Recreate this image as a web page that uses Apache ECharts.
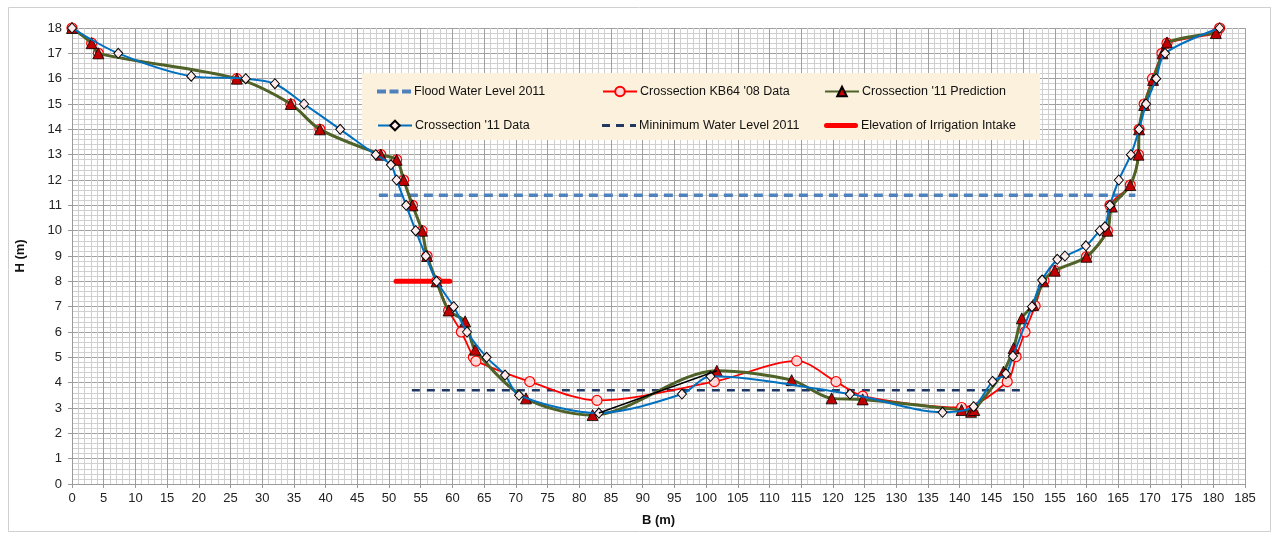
<!DOCTYPE html>
<html><head><meta charset="utf-8">
<script src="https://cdn.jsdelivr.net/npm/echarts@6/dist/echarts.min.js"></script>
<style>html,body{margin:0;padding:0;background:#fff}#c{width:1279px;height:535px}</style>
</head><body><div id="c"></div>
<script>
// ---- data (B in m, H in m) ----
const seriesNames = ["Flood Water Level 2011","Crossection KB64 '08 Data","Crossection '11 Prediction","Crossection '11 Data","Mininimum Water Level 2011","Elevation of Irrigation Intake"];
const floodLevel2011 = [[48.4,11.4],[167.7,11.4]];
const kb64Data08 = [[0,18],[3.1,17.4],[4.15,17],[26,16],[34.5,15],[39.1,14],[48.7,13],[51.2,12.8],[52.3,12],[53.7,11],[55.2,10],[56,9],[57.5,8],[59.4,6.85],[61.4,6.0],[63.3,5.0],[63.7,4.85],[72.2,4.04],[82.8,3.3],[101.3,4.04],[114.3,4.86],[120.5,4.04],[124.7,3.47],[140.3,3.02],[147.5,4.04],[148.9,5.03],[150.3,6.0],[151.9,7.03],[153.3,8.03],[155,8.42],[160,8.97],[163.3,10],[163.7,11],[166.9,11.8],[168.2,13],[168.3,14],[169.1,15],[170.4,16],[171.9,17],[172.7,17.4],[180.5,17.8],[181,18]];
const prediction11 = [[0,18],[3.1,17.4],[4.15,17],[26,16],[34.5,15],[39.1,14],[48.7,13],[51.2,12.8],[52.3,12],[53.7,11],[55.2,10],[56,9],[57.5,8],[59.4,6.85],[62,6.42],[63.6,5.3],[71.6,3.38],[82.1,2.72],[101.7,4.47],[113.5,4.1],[119.8,3.38],[124.7,3.34],[140.3,2.92],[141.8,2.85],[142.3,2.92],[146.9,4.43],[148.5,5.36],[149.8,6.54],[151.6,7.07],[153.2,8],[155,8.42],[160,8.97],[163.3,10],[164,10.95],[166.9,11.8],[168.2,13],[168.3,14],[169.1,14.96],[170.5,15.95],[172,17],[172.7,17.43],[180.4,17.8]];
const data11 = [[0,18],[7.3,17],[18.8,16.1],[27.4,16],[32,15.8],[36.6,15],[42.3,14],[47.9,13],[50.3,12.6],[51.2,12],[52.7,11],[54.2,10],[55.8,9],[57.5,8],[60.2,7],[62.3,6],[65.4,5],[68.3,4.3],[70.5,3.5],[83.1,2.8],[96.2,3.55],[100.7,4.25],[122.7,3.55],[137.3,2.83],[142.2,3.05],[145.2,4.05],[147.3,4.35],[148.4,5.05],[151.4,7.0],[153,8.05],[155.4,8.87],[156.6,9.0],[159.9,9.4],[162.1,10.0],[162.9,10.15],[163.7,11],[165.1,12],[167,13],[168.3,14],[169.4,15],[171,16],[172.4,17],[181,18]];
const blackSegment = [[83.1,2.8],[101.7,4.47]];
const minLevel2011 = [[53.6,3.7],[150.3,3.7]];
const irrigationIntake = [[51.1,8],[59.6,8]];
const xMin = 0, xMax = 185, xStep = 5;
const yMin = 0, yMax = 18, yStep = 1;

const chart = echarts.init(document.getElementById('c'), null, {renderer:'canvas'});
const FONT = "'Liberation Sans', Arial, sans-serif";
const legendPos = [
  {left:372, top:80},{left:597, top:80},{left:819, top:80},
  {left:372, top:114},{left:597, top:114},{left:819, top:114}
];
const legendIcons = [
  {icon:'path://M0,0h9v4h-9z M12.5,0h9v4h-9z M25,0h9v4h-9z', h:4},
  null, null, null,
  {icon:'path://M0,0h8v3h-8z M14,0h8v3h-8z M28,0h6v3h-6z', h:3},
  {icon:'path://M2.5,0h29a2.5,2.5 0 0 1 0,5h-29a2.5,2.5 0 0 1 0,-5z', h:5}
];
const legends = seriesNames.map((n,i)=>{
  const ic = legendIcons[i];
  return {
    data:[ic ? {name:n, icon:ic.icon} : n],
    left:legendPos[i].left, top:legendPos[i].top,
    itemWidth:34, itemHeight: ic ? ic.h : 12, itemGap:0,
    textStyle:{fontFamily:FONT, fontSize:12.5, color:'#111', padding:[0,0,0,-2]}, z:5, selectedMode:false
  };
});

chart.setOption({
  animation:false,
  backgroundColor:'#fff',
  graphic:[
    {type:'rect', shape:{x:8.5,y:7.5,width:1262,height:524}, style:{fill:'none', stroke:'#d0d0d0', lineWidth:1}, z:0},
    {type:'rect', shape:{x:362,y:73,width:678,height:67}, style:{fill:'#fcf1dd', stroke:'none'}, z:3}
  ],
  legend: legends,
  grid:{left:72, right:34, top:28, bottom:51, containLabel:false},
  xAxis:{type:'value', min:xMin, max:xMax, interval:xStep,
    name:'B (m)', nameLocation:'middle', nameGap:30,
    nameTextStyle:{fontFamily:FONT, fontWeight:'bold', fontSize:13, color:'#111'},
    axisLine:{show:true, lineStyle:{color:'#9a9a9a'}},
    axisTick:{show:true, length:4, lineStyle:{color:'#9a9a9a'}},
    axisLabel:{fontFamily:"'Liberation Sans Narrow', "+FONT, fontSize:13, color:'#222', margin:8},
    splitLine:{show:true, lineStyle:{color:'#a0a0a0', width:1}},
    minorTick:{show:false, splitNumber:5},
    minorSplitLine:{show:true, lineStyle:{color:'#cfcfcf', width:1}}
  },
  yAxis:{type:'value', min:yMin, max:yMax, interval:yStep,
    name:'H (m)', nameLocation:'middle', nameGap:45, nameRotate:90,
    nameTextStyle:{fontFamily:FONT, fontWeight:'bold', fontSize:13, color:'#111'},
    axisLine:{show:true, lineStyle:{color:'#9a9a9a'}},
    axisTick:{show:true, length:4, lineStyle:{color:'#9a9a9a'}},
    axisLabel:{fontFamily:FONT, fontSize:13, color:'#222', margin:10},
    splitLine:{show:true, lineStyle:{color:'#a0a0a0', width:1}},
    minorTick:{show:false, splitNumber:5},
    minorSplitLine:{show:true, lineStyle:{color:'#cfcfcf', width:1}}
  },
  series:[
    {name:seriesNames[0], type:'line', data:floodLevel2011, symbol:'none', z:2,
      lineStyle:{color:'#4f81bd', width:3.5, type:[9,6]}, itemStyle:{color:'#4f81bd'}},
    {name:seriesNames[4], type:'line', data:minLevel2011, symbol:'none', z:2,
      lineStyle:{color:'#1f3864', width:2.5, type:[8,7]}, itemStyle:{color:'#1f3864'}},
    {name:seriesNames[5], type:'line', data:irrigationIntake, symbol:'none', z:2,
      lineStyle:{color:'#ff0000', width:5, cap:'round'}, itemStyle:{color:'#ff0000'}},
    {name:seriesNames[1], type:'line', data:kb64Data08, smooth:0.3, z:3,
      symbol:'circle', symbolSize:10,
      lineStyle:{color:'#ff0000', width:1.8},
      itemStyle:{color:'#fbd7d7', borderColor:'#ff0000', borderWidth:1.2}},
    {name:seriesNames[2], type:'line', data:prediction11, smooth:0.3, z:4,
      symbol:'triangle', symbolSize:[11,11],
      lineStyle:{color:'#4f6228', width:3},
      itemStyle:{color:'#c00000', borderColor:'#000', borderWidth:0.8}},
    {name:seriesNames[3], type:'line', data:data11, smooth:0.3, z:5,
      symbol:'diamond', symbolSize:[9,10],
      lineStyle:{color:'#0070c0', width:2},
      itemStyle:{color:'#fdeaea', borderColor:'#000', borderWidth:1}},
    {name:'segment', type:'line', data:blackSegment, symbol:'none', z:6,
      lineStyle:{color:'#000', width:1.5}}
  ]
});
</script></body></html>
